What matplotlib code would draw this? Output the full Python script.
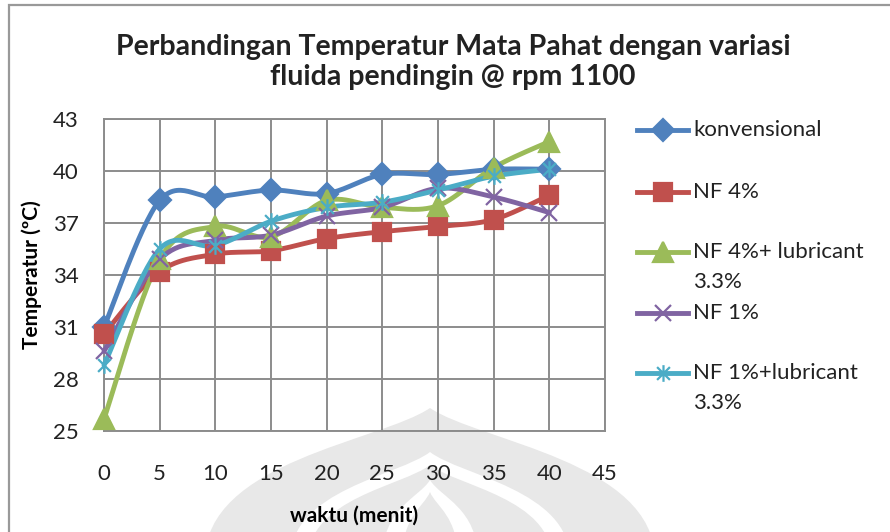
import numpy as np
import matplotlib
matplotlib.use("Agg")
import matplotlib.pyplot as plt
from matplotlib.lines import Line2D
from matplotlib.path import Path
from matplotlib.patches import Rectangle, PathPatch

# waktu (menit) vs temperatur mata pahat
waktu = [0, 5, 10, 15, 20, 25, 30, 35, 40]
konvensional = [31.0, 38.3, 38.5, 38.9, 38.7, 39.8, 39.8, 40.1, 40.1]
nf4 = [30.6, 34.2, 35.2, 35.4, 36.1, 36.5, 36.8, 37.2, 38.6]
nf4_lub = [25.7, 34.9, 36.8, 36.2, 38.3, 37.9, 38.0, 40.2, 41.7]
nf1 = [29.6, 34.9, 36.0, 36.3, 37.4, 37.9, 39.0, 38.5, 37.6]
nf1_lub = [28.8, 35.5, 35.7, 37.1, 37.9, 38.2, 38.9, 39.7, 40.1]

labels = ["konvensional", "NF 4%", "NF 4%+ lubricant\n3.3%", "NF 1%",
          "NF 1%+lubricant\n3.3%"]
yticks = [25, 28, 31, 34, 37, 40, 43]
xticks = [0, 5, 10, 15, 20, 25, 30, 35, 40, 45]

FONT = "Lato"
W, H = 890, 532

# asterisk marker (x with a vertical bar), like excel's "star"
star = Path([(-1, -1), (1, 1), (-1, 1), (1, -1), (0, -1.3), (0, 1.3)],
            [Path.MOVETO, Path.LINETO, Path.MOVETO, Path.LINETO,
             Path.MOVETO, Path.LINETO])

series = [
    (konvensional, "#4F81BD", "D", 11.5),
    (nf4, "#C0504D", "s", 13),
    (nf4_lub, "#9BBB59", "^", 14),
    (nf1, "#8064A2", "x", 12),
    (nf1_lub, "#4BACC6", star, 12),
]


def px(x, y):
    # pixel position (from top-left) -> figure fraction
    return x / W, 1 - y / H


def smooth(x, y, n=30):
    # bezier smoothing the way excel does it
    x = np.asarray(x, float)
    y = np.asarray(y, float)
    ppx = np.concatenate([[x[0]], x, [x[-1]]])
    ppy = np.concatenate([[y[0]], y, [y[-1]]])
    t = np.linspace(0, 1, n)[:, None]
    xs, ys = [], []
    for i in range(1, len(x)):
        p0 = np.array([ppx[i], ppy[i]])
        p3 = np.array([ppx[i + 1], ppy[i + 1]])
        c1 = p0 + (p3 - np.array([ppx[i - 1], ppy[i - 1]])) / 6
        c2 = p3 - (np.array([ppx[i + 2], ppy[i + 2]]) - p0) / 6
        seg = ((1 - t) ** 3) * p0 + 3 * ((1 - t) ** 2) * t * c1 \
            + 3 * (1 - t) * t ** 2 * c2 + t ** 3 * p3
        xs.append(seg[:, 0])
        ys.append(seg[:, 1])
    return np.concatenate(xs), np.concatenate(ys)


def onion(cx, hw, tip, base=560):
    # pointed dome outline for the faint logo in the background
    h = base - tip
    verts = [px(cx - hw, base),
             px(cx - hw, base - 0.65 * h), px(cx - 0.22 * hw, tip + 0.22 * h), px(cx, tip),
             px(cx + 0.22 * hw, tip + 0.22 * h), px(cx + hw, base - 0.65 * h), px(cx + hw, base),
             px(cx - hw, base)]
    codes = [Path.MOVETO] + [Path.CURVE4] * 6 + [Path.CLOSEPOLY]
    return Path(verts, codes)


fig = plt.figure(figsize=(W / 100, H / 100), dpi=100)
fig.patch.set_facecolor("white")

# faint logo behind the chart
for hw, tip, col in [(225, 408, "#e8e8e8"), (140, 452, "white"),
                     (122, 465, "#e8e8e8"), (48, 480, "white"),
                     (28, 492, "#e8e8e8")]:
    fig.add_artist(PathPatch(onion(430, hw, tip), facecolor=col,
                             edgecolor="none", transform=fig.transFigure,
                             zorder=-2))

# chart border
fig.add_artist(Rectangle((9 / W, -0.05), 1.1, 1 - 5 / H + 0.05,
                         transform=fig.transFigure, fill=False,
                         edgecolor="#999999", linewidth=1.6, zorder=-1))

ax = fig.add_axes([104 / W, 1 - 431 / H, 501 / W, 312 / H])
ax.patch.set_visible(False)
ax.set_xlim(0, 45)
ax.set_ylim(25, 43)
ax.set_xticks(xticks)
ax.set_yticks(yticks)
ax.grid(True, color="#8c8c8c", linewidth=1.4)
for s in ax.spines.values():
    s.set_color("#8c8c8c")
    s.set_linewidth(1.4)
ax.tick_params(length=0, labelsize=16, labelcolor="#222222")
ax.tick_params(axis="x", pad=24)
ax.tick_params(axis="y", pad=18)
for lab in ax.get_xticklabels() + ax.get_yticklabels():
    lab.set_family(FONT)

for vals, col, mk, ms in series:
    sx, sy = smooth(waktu, vals)
    ax.plot(sx, sy, color=col, linewidth=3.5, solid_capstyle="round",
            clip_on=False, zorder=3)
    ax.plot(waktu, vals, linestyle="none", marker=mk, markersize=ms,
            color=col, markeredgecolor=col, markeredgewidth=1.6,
            clip_on=False, zorder=4)

ax.set_xlabel("waktu (menit)", fontsize=15, fontweight="bold", family=FONT,
              labelpad=15)
ax.set_ylabel("Temperatur (ºC)", fontsize=15, fontweight="bold", family=FONT,
              labelpad=8)

fig.text(*px(453, 62),
         "Perbandingan Temperatur Mata Pahat dengan variasi\nfluida pendingin @ rpm 1100",
         ha="center", va="center", fontsize=20.5, fontweight="bold",
         family=FONT, color="#222222", linespacing=1.15)

# legend on the right
legend_y = [130, 192, 252, 313, 373]
for (vals, col, mk, ms), lab, ly in zip(series, labels, legend_y):
    x0, yf = px(637, ly)
    x1, _ = px(688, ly)
    fig.add_artist(Line2D([x0, x1], [yf, yf], color=col,
                          linewidth=3.5, transform=fig.transFigure))
    fig.add_artist(Line2D([(x0 + x1) / 2], [yf], marker=mk, markersize=ms,
                          color=col, markeredgewidth=1.6,
                          transform=fig.transFigure))
    for k, line in enumerate(lab.split("\n")):
        fig.text(*px(693, ly + 30 * k), line, ha="left",
                 va="center", fontsize=16, family=FONT, color="#222222")

fig.savefig("out.png", dpi=100)
